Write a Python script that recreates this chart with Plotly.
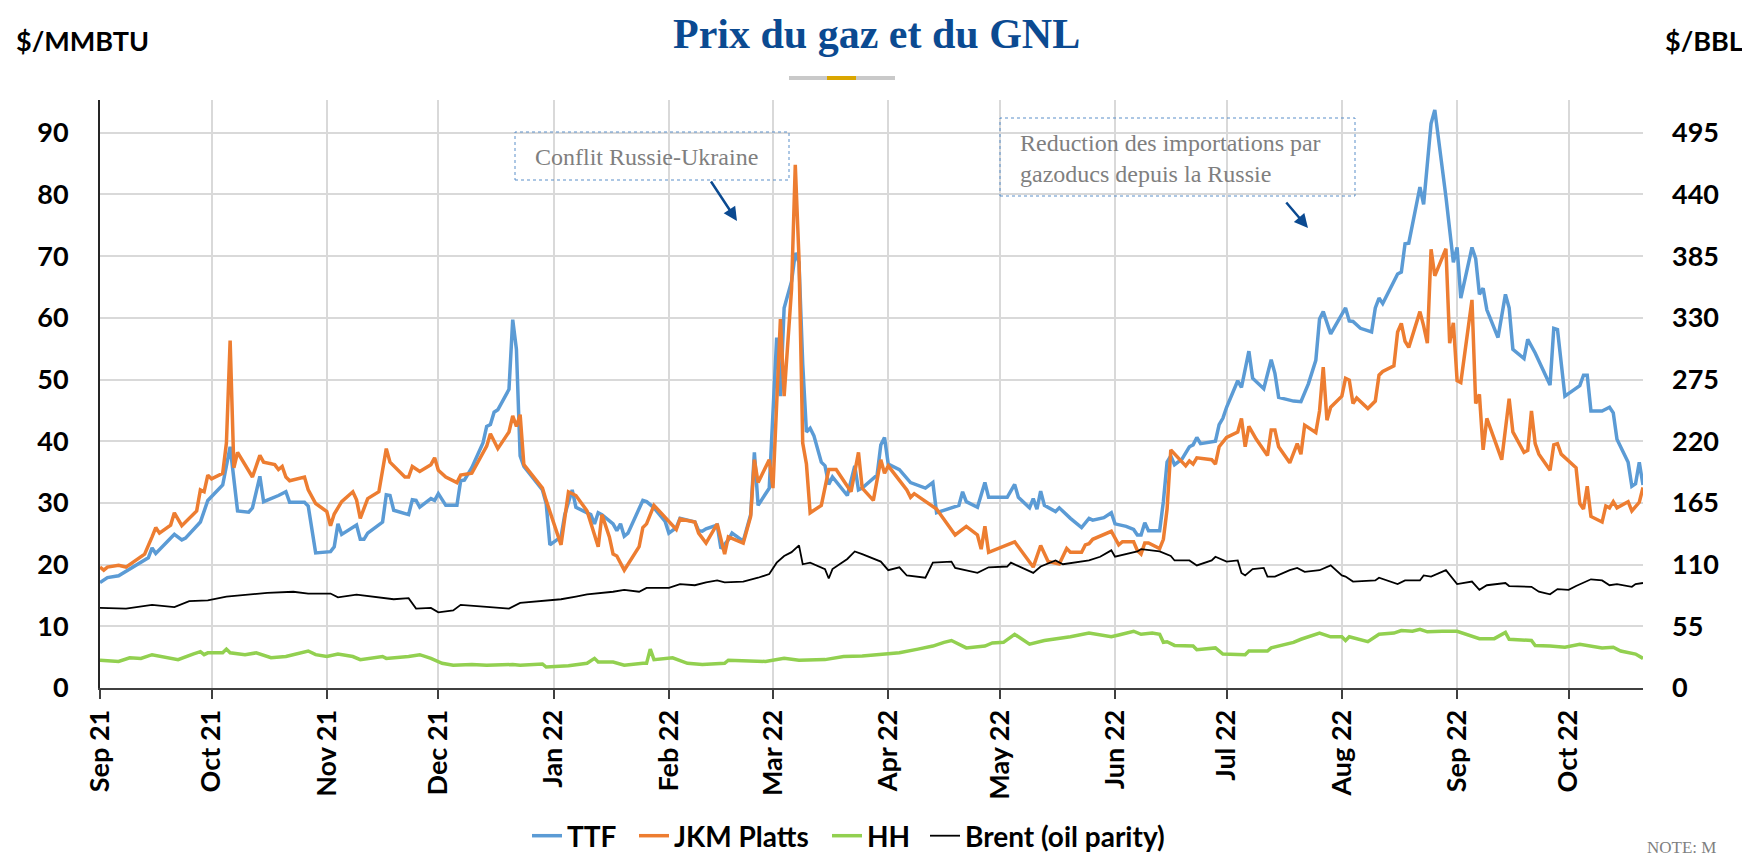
import plotly.graph_objects as go

# ---------------- data ----------------
ttf_dates = ["2021-09-01","2021-09-03","2021-09-06","2021-09-14","2021-09-15","2021-09-16","2021-09-21","2021-09-23","2021-09-24","2021-09-28","2021-09-30",
 "2021-10-04","2021-10-06","2021-10-08","2021-10-11","2021-10-12","2021-10-14","2021-10-15","2021-10-19","2021-10-21","2021-10-22","2021-10-26","2021-10-27","2021-10-29",
 "2021-11-02","2021-11-03","2021-11-04","2021-11-05","2021-11-09","2021-11-10","2021-11-11","2021-11-12","2021-11-16","2021-11-17","2021-11-18","2021-11-19","2021-11-23","2021-11-24","2021-11-25","2021-11-26","2021-11-29","2021-11-30",
 "2021-12-01","2021-12-03","2021-12-06","2021-12-07","2021-12-08","2021-12-10","2021-12-13","2021-12-14","2021-12-15","2021-12-16","2021-12-17","2021-12-20","2021-12-21","2021-12-22","2021-12-23","2021-12-24","2021-12-29","2021-12-30","2021-12-31",
 "2022-01-03","2022-01-04","2022-01-06","2022-01-07","2022-01-11","2022-01-12","2022-01-13","2022-01-14","2022-01-17","2022-01-18","2022-01-19","2022-01-20","2022-01-21","2022-01-25","2022-01-26","2022-01-28","2022-01-31",
 "2022-02-01","2022-02-03","2022-02-04","2022-02-08","2022-02-09","2022-02-10","2022-02-11","2022-02-14","2022-02-15","2022-02-17","2022-02-18","2022-02-21","2022-02-23","2022-02-24","2022-02-25","2022-02-28",
 "2022-03-02","2022-03-03","2022-03-04","2022-03-06","2022-03-07","2022-03-08","2022-03-09","2022-03-10","2022-03-11","2022-03-12","2022-03-14","2022-03-15","2022-03-16","2022-03-17","2022-03-21","2022-03-23","2022-03-24","2022-03-25","2022-03-29","2022-03-30","2022-03-31",
 "2022-04-01","2022-04-04","2022-04-07","2022-04-11","2022-04-13","2022-04-14","2022-04-16","2022-04-20","2022-04-21","2022-04-22","2022-04-25","2022-04-27","2022-04-28",
 "2022-05-03","2022-05-05","2022-05-06","2022-05-09","2022-05-10","2022-05-11","2022-05-12","2022-05-13","2022-05-16","2022-05-17","2022-05-20","2022-05-23","2022-05-25","2022-05-26","2022-05-29","2022-05-31",
 "2022-06-01","2022-06-04","2022-06-06","2022-06-07","2022-06-08","2022-06-09","2022-06-10","2022-06-13","2022-06-14","2022-06-15","2022-06-16","2022-06-17","2022-06-19","2022-06-21","2022-06-22","2022-06-23","2022-06-24","2022-06-28","2022-06-29","2022-06-30",
 "2022-07-01","2022-07-04","2022-07-05","2022-07-07","2022-07-08","2022-07-11","2022-07-13","2022-07-14","2022-07-15","2022-07-19","2022-07-21","2022-07-23","2022-07-25","2022-07-26","2022-07-27","2022-07-29",
 "2022-08-02","2022-08-03","2022-08-04","2022-08-06","2022-08-09","2022-08-10","2022-08-11","2022-08-12","2022-08-16","2022-08-17","2022-08-18","2022-08-19","2022-08-22","2022-08-23","2022-08-25","2022-08-26","2022-08-27","2022-08-29","2022-08-31",
 "2022-09-01","2022-09-02","2022-09-05","2022-09-06","2022-09-07","2022-09-08","2022-09-09","2022-09-12","2022-09-14","2022-09-15","2022-09-16","2022-09-19","2022-09-20","2022-09-22","2022-09-26","2022-09-27","2022-09-28","2022-09-30",
 "2022-10-04","2022-10-05","2022-10-06","2022-10-07","2022-10-10","2022-10-12","2022-10-13","2022-10-14","2022-10-17","2022-10-18","2022-10-19","2022-10-20","2022-10-21"]
ttf_values = [17.1,17.9,18.2,21.1,22.7,21.8,24.9,24.0,24.3,26.9,30.4,
 32.9,39.1,28.7,28.5,29.2,34.3,30.2,31.2,31.8,30.1,30.1,29.5,21.9,
 22.1,22.9,26.6,24.9,26.4,24.1,24.1,25.1,26.9,31.3,31.2,28.8,28.1,30.5,30.4,29.3,30.7,30.4,
 31.5,29.6,29.6,33.6,33.7,35.7,39.7,42.4,42.7,44.7,45.1,48.4,59.7,54.9,37.6,35.9,32.1,29.9,23.2,
 24.5,28.1,32.1,29.3,28.1,26.6,28.4,28.1,26.6,25.5,26.6,24.6,25.1,30.4,30.2,29.2,27.0,
 25.1,26.0,27.5,26.9,25.5,25.4,25.8,26.4,22.6,24.0,25.1,23.8,28.1,38.2,29.6,32.4,
 56.8,47.3,61.6,65.9,70.5,69.0,52.5,41.5,42.1,40.9,36.6,36.0,33.0,34.2,31.2,36.0,32.1,32.4,34.5,39.4,40.6,
 36.3,35.4,33.3,32.4,33.3,28.4,28.8,29.6,31.8,30.2,29.3,33.3,30.9,
 30.9,33.0,30.9,29.2,30.7,29.0,31.9,29.6,28.6,29.2,27.5,26.0,27.5,27.2,27.6,28.4,
 26.6,26.2,25.7,24.8,24.8,26.8,25.5,25.5,30.2,36.6,37.6,36.2,37.1,39.1,39.4,40.6,39.6,40.0,42.7,43.7,
 45.5,49.8,48.7,54.6,50.2,48.5,53.2,51.0,47.1,46.5,46.4,49.3,53.1,59.8,61.0,57.4,
 61.6,59.5,59.4,58.3,57.7,61.6,63.2,62.3,67.1,67.4,72.0,72.1,81.2,78.4,91.5,93.7,89.1,79.6,69.0,
 71.4,63.2,71.4,69.6,63.8,64.8,61.3,56.8,63.8,61.6,54.9,53.4,56.5,54.3,49.1,58.3,58.1,47.3,
 49.0,50.7,50.7,44.9,44.9,45.5,44.6,40.3,36.6,32.7,33.1,36.6,32.9]

jkm_dates = ["2021-09-01","2021-09-02","2021-09-03","2021-09-06","2021-09-08","2021-09-10","2021-09-13","2021-09-15","2021-09-16","2021-09-17","2021-09-20","2021-09-21","2021-09-23","2021-09-27","2021-09-28","2021-09-29","2021-09-30",
 "2021-10-01","2021-10-04","2021-10-05","2021-10-06","2021-10-07","2021-10-08","2021-10-12","2021-10-14","2021-10-15","2021-10-18","2021-10-19","2021-10-20","2021-10-21","2021-10-22","2021-10-26","2021-10-27","2021-10-29",
 "2021-11-01","2021-11-02","2021-11-03","2021-11-05","2021-11-08","2021-11-09","2021-11-10","2021-11-12","2021-11-15","2021-11-17","2021-11-18","2021-11-22","2021-11-23","2021-11-24","2021-11-26","2021-11-29","2021-11-30",
 "2021-12-01","2021-12-03","2021-12-06","2021-12-07","2021-12-10","2021-12-13","2021-12-14","2021-12-15","2021-12-17","2021-12-20","2021-12-21","2021-12-22","2021-12-23","2021-12-24","2021-12-29","2021-12-30",
 "2022-01-03","2022-01-05","2022-01-07","2022-01-10","2022-01-11","2022-01-13","2022-01-14","2022-01-16","2022-01-17","2022-01-18","2022-01-20","2022-01-24","2022-01-25","2022-01-26","2022-01-28",
 "2022-02-03","2022-02-04","2022-02-08","2022-02-09","2022-02-11","2022-02-14","2022-02-16","2022-02-17","2022-02-21","2022-02-23","2022-02-24","2022-02-25","2022-02-28",
 "2022-03-01","2022-03-03","2022-03-04","2022-03-06","2022-03-07","2022-03-08","2022-03-09","2022-03-10","2022-03-11","2022-03-14","2022-03-16","2022-03-18","2022-03-22","2022-03-24","2022-03-25","2022-03-28","2022-03-30","2022-03-31",
 "2022-04-01","2022-04-04","2022-04-06","2022-04-07","2022-04-08","2022-04-14","2022-04-19","2022-04-22","2022-04-25","2022-04-26","2022-04-27","2022-04-28",
 "2022-05-05","2022-05-10","2022-05-12","2022-05-14","2022-05-17","2022-05-19","2022-05-20","2022-05-23","2022-05-24","2022-05-25","2022-05-26","2022-05-31",
 "2022-06-02","2022-06-03","2022-06-06","2022-06-07","2022-06-08","2022-06-09","2022-06-10","2022-06-13","2022-06-14","2022-06-15","2022-06-16","2022-06-18","2022-06-20","2022-06-21","2022-06-22","2022-06-23","2022-06-27","2022-06-28","2022-06-29",
 "2022-07-01","2022-07-04","2022-07-05","2022-07-06","2022-07-07","2022-07-09","2022-07-12","2022-07-13","2022-07-14","2022-07-15","2022-07-18","2022-07-20","2022-07-21","2022-07-22","2022-07-25","2022-07-26","2022-07-27","2022-07-28","2022-07-29",
 "2022-08-01","2022-08-02","2022-08-03","2022-08-04","2022-08-05","2022-08-08","2022-08-10","2022-08-11","2022-08-12","2022-08-15","2022-08-16","2022-08-17","2022-08-18","2022-08-19","2022-08-22","2022-08-23","2022-08-24","2022-08-25","2022-08-26","2022-08-29","2022-08-30","2022-08-31",
 "2022-09-01","2022-09-02","2022-09-05","2022-09-06","2022-09-07","2022-09-08","2022-09-09","2022-09-13","2022-09-15","2022-09-16","2022-09-19","2022-09-20","2022-09-21","2022-09-22","2022-09-23","2022-09-26","2022-09-27","2022-09-28","2022-09-29",
 "2022-10-03","2022-10-04","2022-10-05","2022-10-06","2022-10-07","2022-10-10","2022-10-11","2022-10-12","2022-10-13","2022-10-14","2022-10-17","2022-10-18","2022-10-20","2022-10-21"]
jkm_values = [19.6,19.1,19.6,19.9,19.6,20.5,21.7,24.5,26.0,25.1,26.4,28.4,26.3,28.7,32.1,31.8,34.5,
 33.9,34.8,39.7,56.3,35.7,38.2,34.2,37.7,36.6,36.2,35.4,35.9,34.2,33.6,34.2,32.1,29.9,
 28.6,26.3,28.2,30.2,31.8,30.5,27.5,30.7,31.8,38.8,36.6,34.2,34.2,35.9,35.1,36.2,37.3,
 35.3,34.2,33.3,34.5,34.8,38.2,39.2,41.2,38.8,41.5,44.1,42.4,44.3,36.2,32.4,30.4,
 23.2,31.8,31.2,28.7,26.9,22.9,28.1,24.5,21.7,21.4,19.1,22.9,26.0,26.6,29.6,
 25.7,27.4,26.9,25.1,23.5,26.6,21.7,24.5,23.5,27.8,37.0,33.3,37.0,
 32.4,59.8,47.3,64.7,84.8,69.6,39.7,36.3,28.4,29.6,35.4,35.4,31.8,38.2,32.4,30.4,37.0,34.8,
 36.0,33.6,32.1,30.9,31.5,29.0,24.8,26.2,24.8,22.5,26.2,22.0,
 23.7,19.6,23.1,20.5,20.1,22.6,22.0,22.0,23.2,23.4,24.1,25.4,
 23.2,23.7,23.7,22.3,21.7,23.5,23.5,22.6,24.1,29.0,38.6,37.3,36.0,36.8,36.3,37.3,37.0,36.3,39.1,
 40.6,41.5,43.7,39.1,42.4,40.3,37.7,41.8,41.8,39.1,36.5,39.6,37.9,42.6,41.4,44.9,52.0,43.4,45.5,
 47.3,50.2,49.9,46.1,47.0,45.3,46.5,50.7,51.3,52.2,57.7,59.1,56.2,55.2,61.0,58.7,55.9,71.1,66.8,71.2,55.9,59.2,
 49.8,49.5,62.9,46.1,47.6,38.6,43.7,37.0,46.9,41.5,38.2,38.5,44.9,39.6,37.9,35.3,39.4,39.6,37.9,
 35.7,29.9,29.0,32.7,27.8,26.9,29.5,29.2,30.2,29.2,30.2,28.7,30.1,32.5]

hh_dates = ["2021-09-01","2021-09-06","2021-09-09","2021-09-12","2021-09-15","2021-09-22","2021-09-26","2021-09-28","2021-09-29","2021-09-30",
 "2021-10-04","2021-10-05","2021-10-06","2021-10-10","2021-10-13","2021-10-17","2021-10-21","2021-10-27","2021-10-29",
 "2021-11-01","2021-11-04","2021-11-08","2021-11-10","2021-11-13","2021-11-16","2021-11-17","2021-11-23","2021-11-26","2021-11-29",
 "2021-12-02","2021-12-05","2021-12-10","2021-12-14","2021-12-21","2021-12-23","2021-12-29","2021-12-30",
 "2022-01-05","2022-01-10","2022-01-12","2022-01-13","2022-01-17","2022-01-20","2022-01-25","2022-01-26","2022-01-27","2022-01-28",
 "2022-02-02","2022-02-06","2022-02-10","2022-02-16","2022-02-17","2022-02-23","2022-02-27",
 "2022-03-04","2022-03-08","2022-03-15","2022-03-20","2022-03-25","2022-03-31",
 "2022-04-04","2022-04-09","2022-04-13","2022-04-16","2022-04-18","2022-04-22","2022-04-27","2022-04-29",
 "2022-05-02","2022-05-05","2022-05-09","2022-05-13","2022-05-16","2022-05-20","2022-05-25","2022-05-31",
 "2022-06-02","2022-06-04","2022-06-06","2022-06-08","2022-06-11","2022-06-13","2022-06-14","2022-06-15","2022-06-17","2022-06-22","2022-06-23","2022-06-28","2022-06-30",
 "2022-07-06","2022-07-07","2022-07-12","2022-07-13","2022-07-19","2022-07-21","2022-07-26","2022-07-29",
 "2022-08-01","2022-08-02","2022-08-03","2022-08-08","2022-08-11","2022-08-15","2022-08-17","2022-08-20","2022-08-22","2022-08-24","2022-08-28",
 "2022-09-01","2022-09-07","2022-09-11","2022-09-14","2022-09-15","2022-09-21","2022-09-22","2022-09-26","2022-09-30",
 "2022-10-04","2022-10-07","2022-10-10","2022-10-13","2022-10-15","2022-10-19","2022-10-21"]
hh_values = [4.5,4.3,4.9,4.8,5.4,4.6,5.5,5.9,5.4,5.7,
 5.7,6.3,5.7,5.4,5.7,4.9,5.1,6.0,5.4,
 5.1,5.5,5.1,4.6,4.9,5.1,4.8,5.1,5.4,4.8,
 4.0,3.7,3.8,3.7,3.8,3.7,3.9,3.4,
 3.6,4.0,4.8,4.2,4.2,3.7,4.0,4.0,6.3,4.6,
 4.9,4.0,3.8,4.0,4.5,4.3,4.3,
 4.8,4.5,4.6,5.1,5.2,5.5,
 5.7,6.3,6.8,7.4,7.7,6.5,6.8,7.3,
 7.4,8.7,7.1,7.7,7.9,8.3,8.9,8.3,
 8.6,8.9,9.2,8.7,8.9,8.7,7.4,7.5,6.9,6.8,6.2,6.5,5.5,
 5.4,6.0,6.0,6.5,7.4,7.9,8.9,8.3,
 8.3,7.7,8.3,7.5,8.7,8.9,9.3,9.2,9.5,9.1,9.2,
 9.2,8.0,8.0,9.0,7.9,7.7,6.9,6.8,6.6,
 7.1,6.8,6.5,6.6,6.0,5.5,4.8]

# Brent in $/BBL (right axis)
brent_dates = ["2021-09-01","2021-09-08","2021-09-15","2021-09-21","2021-09-25","2021-09-30",
 "2021-10-05","2021-10-11","2021-10-16","2021-10-23","2021-10-27",
 "2021-11-02","2021-11-04","2021-11-09","2021-11-16","2021-11-19","2021-11-23","2021-11-25","2021-11-29",
 "2021-12-01","2021-12-05","2021-12-07","2021-12-14","2021-12-20","2021-12-23","2021-12-29",
 "2022-01-03","2022-01-07","2022-01-10","2022-01-17","2022-01-20","2022-01-24","2022-01-26",
 "2022-02-01","2022-02-04","2022-02-08","2022-02-11","2022-02-14","2022-02-16","2022-02-21","2022-02-25","2022-02-28",
 "2022-03-02","2022-03-04","2022-03-06","2022-03-08","2022-03-09","2022-03-11","2022-03-15","2022-03-16","2022-03-17","2022-03-21","2022-03-23","2022-03-25","2022-03-30",
 "2022-04-01","2022-04-04","2022-04-06","2022-04-11","2022-04-13","2022-04-18","2022-04-19","2022-04-25","2022-04-28",
 "2022-05-03","2022-05-04","2022-05-10","2022-05-12","2022-05-16","2022-05-18","2022-05-25","2022-05-28","2022-05-31",
 "2022-06-01","2022-06-04","2022-06-07","2022-06-08","2022-06-13","2022-06-16","2022-06-17","2022-06-21","2022-06-23","2022-06-27","2022-06-28",
 "2022-07-01","2022-07-04","2022-07-05","2022-07-06","2022-07-08","2022-07-11","2022-07-12","2022-07-14","2022-07-18","2022-07-20","2022-07-22","2022-07-26","2022-07-29",
 "2022-08-01","2022-08-02","2022-08-04","2022-08-10","2022-08-11","2022-08-16","2022-08-18","2022-08-22","2022-08-23","2022-08-25","2022-08-29",
 "2022-09-01","2022-09-05","2022-09-07","2022-09-09","2022-09-14","2022-09-15","2022-09-21","2022-09-23","2022-09-26","2022-09-28",
 "2022-10-01","2022-10-03","2022-10-07","2022-10-10","2022-10-12","2022-10-14","2022-10-18","2022-10-19","2022-10-21"]
brent_values = [71.4,70.8,74.1,72.1,77.5,78.1,
 81.5,83.5,84.8,85.8,84.2,
 84.2,80.8,83.2,80.8,79.1,80.1,70.8,71.4,
 67.4,69.1,74.1,72.4,70.8,75.8,77.5,
 79.1,81.5,83.5,85.8,87.5,85.8,89.2,
 89.2,92.6,91.6,94.2,95.9,94.2,94.9,98.3,101.6,
 111.7,117.7,121.1,127.1,110.3,111.7,106.0,97.6,106.0,115.0,121.7,119.4,112.7,
 105.0,107.6,100.3,98.3,111.7,112.7,107.0,102.6,107.6,
 108.3,111.7,102.6,108.3,113.7,110.3,113.7,117.0,122.7,
 117.0,119.4,121.7,123.8,121.7,117.7,113.7,113.7,109.3,113.7,117.0,
 112.7,113.7,102.6,100.3,106.0,107.0,99.3,99.3,105.0,107.0,103.6,105.0,109.3,
 100.3,99.3,94.9,95.9,98.3,92.6,95.9,95.9,100.3,99.3,105.0,
 92.6,94.9,87.5,91.6,93.6,90.9,90.2,85.8,83.5,88.2,
 87.5,90.9,96.9,95.9,91.6,92.6,90.2,92.6,93.6]

left_ticks = [0, 10, 20, 30, 40, 50, 60, 70, 80, 90]
right_ticks = [0, 55, 110, 165, 220, 275, 330, 385, 440, 495]

TITLE = "Prix du gaz et du GNL"
NOTE1 = "Conflit Russie-Ukraine"
NOTE2 = "Reduction des importations par<br>gazoducs depuis la Russie"

# ---------------- figure ----------------
# the page body has an 8px default margin: the figure is sized so it fits the window exactly
OFF = 8
W, H = 1750 - OFF, 861 - OFF
L, T = 100 - OFF, 100 - OFF
pw, ph = 1543, 588
R, B = W - L - pw, H - T - ph

def px(x):  # window pixel -> paper x
    return (x - OFF - L) / pw
def py(y):  # window pixel -> paper y
    return (T + ph - (y - OFF)) / ph

YMAX = 95.3
SANS = "Lato"
SERIF = "Liberation Serif"

fig = go.Figure()
fig.add_trace(go.Scatter(x=ttf_dates, y=ttf_values, name="TTF", mode="lines",
                         line=dict(color="#5B9BD5", width=3.5), legend="legend"))
fig.add_trace(go.Scatter(x=jkm_dates, y=jkm_values, name="JKM Platts", mode="lines",
                         line=dict(color="#ED7D31", width=3.5), legend="legend2"))
fig.add_trace(go.Scatter(x=hh_dates, y=hh_values, name="HH", mode="lines",
                         line=dict(color="#92D050", width=3.5), legend="legend3"))
fig.add_trace(go.Scatter(x=brent_dates, y=brent_values, name="Brent (oil parity)", mode="lines",
                         line=dict(color="#000000", width=1.8), yaxis="y2", legend="legend4"))

tickfont = dict(family=SANS, size=27, color="#000000", weight="bold")
legfont = dict(family=SANS, size=28, color="#000000", weight="bold")

def leg(xpix):
    return dict(orientation="h", x=px(xpix), xanchor="left", yref="container", y=0.0, yanchor="bottom",
                font=legfont, itemwidth=30, bgcolor="rgba(0,0,0,0)", borderwidth=0)

fig.update_layout(
    width=W, height=H,
    margin=dict(l=L, r=R, t=T, b=B, autoexpand=False),
    paper_bgcolor="white", plot_bgcolor="white",
    showlegend=True,
    legend=leg(527), legend2=leg(634), legend3=leg(827), legend4=leg(925),
    xaxis=dict(type="date", range=["2021-09-01", "2022-10-21"], automargin=False,
               tick0="2021-09-01", dtick="M1", tickformat="%b %y", tickangle=-90,
               showgrid=True, gridcolor="#D9D9D9", gridwidth=1.5,
               showline=True, linecolor="#404040", linewidth=2,
               ticks="outside", ticklen=9, tickwidth=2, tickcolor="#404040",
               tickfont=tickfont, zeroline=False),
    yaxis=dict(range=[0, YMAX], tickvals=left_ticks, showgrid=True, gridcolor="#D9D9D9", gridwidth=1.5,
               showline=True, linecolor="#262626", linewidth=2, zeroline=False, automargin=False,
               ticks="", tickfont=tickfont, ticklabelstandoff=24),
    yaxis2=dict(range=[0, YMAX * 5.5], tickvals=right_ticks, overlaying="y", side="right",
                showgrid=False, showline=False, zeroline=False, ticks="", automargin=False,
                tickfont=tickfont, ticklabelstandoff=28),
)

shapes = [
    # decoration bar under the title
    dict(type="rect", xref="paper", yref="paper", x0=px(789), x1=px(895), y0=py(80), y1=py(76),
         fillcolor="#C9C9C9", line=dict(width=0), layer="above"),
    dict(type="rect", xref="paper", yref="paper", x0=px(827), x1=px(856), y0=py(80), y1=py(76),
         fillcolor="#DAA600", line=dict(width=0), layer="above"),
    # annotation boxes
    dict(type="rect", xref="paper", yref="paper", x0=px(515), x1=px(789), y0=py(180), y1=py(132),
         line=dict(color="#5B8FC9", width=1, dash="dot"), fillcolor="rgba(0,0,0,0)", layer="above"),
    dict(type="rect", xref="paper", yref="paper", x0=px(1000), x1=px(1355), y0=py(196), y1=py(118),
         line=dict(color="#5B8FC9", width=1, dash="dot"), fillcolor="rgba(0,0,0,0)", layer="above"),
]
fig.update_layout(shapes=shapes)

annotations = [
    dict(text=TITLE, xref="paper", yref="paper", x=px(877), y=py(9), xanchor="center", yanchor="top",
         showarrow=False, font=dict(family=SERIF, size=42, color="#0B4A91", weight="bold")),
    dict(text="$/MMBTU", xref="paper", yref="paper", x=px(14), y=py(41), xanchor="left", yanchor="middle",
         showarrow=False, font=dict(family=SANS, size=27, color="#000000", weight="bold")),
    dict(text="$/BBL", xref="paper", yref="paper", x=px(1663), y=py(41), xanchor="left", yanchor="middle",
         showarrow=False, font=dict(family=SANS, size=27, color="#000000", weight="bold")),
    dict(text=NOTE1, xref="paper", yref="paper", x=px(646), y=py(157), xanchor="center", yanchor="middle",
         showarrow=False, font=dict(family=SERIF, size=24, color="#7F7F7F")),
    dict(text=NOTE2, xref="paper", yref="paper", x=px(1018), y=py(159), xanchor="left", yanchor="middle",
         align="left", showarrow=False, font=dict(family=SERIF, size=24, color="#7F7F7F")),
    # arrows
    dict(text="", xref="paper", yref="paper", x=px(737), y=py(221), ax=710 - 737, ay=180 - 221,
         showarrow=True, arrowhead=2, arrowsize=1.1, arrowwidth=2.5, arrowcolor="#0B4A91"),
    dict(text="", xref="paper", yref="paper", x=px(1308), y=py(228), ax=1285 - 1308, ay=201 - 228,
         showarrow=True, arrowhead=2, arrowsize=1.1, arrowwidth=2.5, arrowcolor="#0B4A91"),
    dict(text="NOTE: M", xref="paper", yref="paper", x=px(1645), y=py(859), xanchor="left", yanchor="bottom",
         showarrow=False, font=dict(family=SERIF, size=17, color="#7F7F7F")),
]
fig.update_layout(annotations=annotations)

fig.write_html("out.html")
